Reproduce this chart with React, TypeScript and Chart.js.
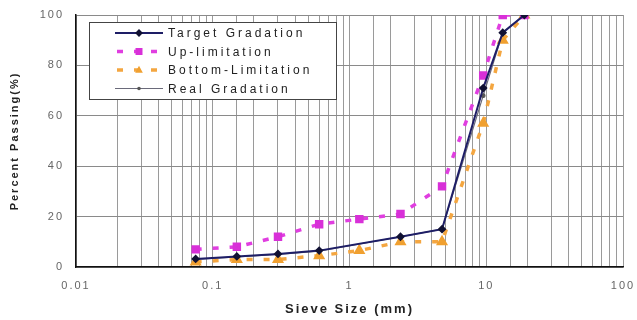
import React, { useEffect, useRef } from 'react';
import { Chart, registerables } from 'chart.js';

Chart.register(...registerables);

// ---- data ----
const seriesNames = ['Target Gradation', 'Up-limitation', 'Bottom-Limitation', 'Real Gradation'];

const targetSizes = [0.075, 0.15, 0.3, 0.6, 2.36, 4.75, 9.5, 13.2, 19];
const targetPassing = [3.2, 4.2, 5.2, 6.5, 12, 15, 71, 93, 100];

const upSizes = [0.075, 0.15, 0.3, 0.6, 1.18, 2.36, 4.75, 9.5, 13.2, 19];
const upPassing = [7, 8, 12, 17, 19, 21, 32, 76, 100, 100];

const bottomSizes = [0.075, 0.15, 0.3, 0.6, 1.18, 2.36, 4.75, 9.5, 13.2, 19];
const bottomPassing = [2, 3, 3, 4.5, 6.5, 10, 10, 57, 90, 100];

const realSizes = [0.075, 0.15, 0.3, 0.6, 2.36, 4.75, 9.5, 13.2, 19];
const realPassing = [3, 4, 5, 6.3, 12, 15, 68, 93, 100];

const xTickLabels = ['0.01', '0.1', '1', '10', '100'];
const yTickLabels = ['0', '20', '40', '60', '80', '100'];

const xTitle = 'Sieve Size (mm)';
const yTitle = 'Percent Passing(%)';

const toPoints = (xs: number[], ys: number[]) => xs.map((x, i) => ({ x, y: ys[i] }));

const FONT = "'Liberation Sans', Arial, sans-serif";

function drawMarker(ctx: CanvasRenderingContext2D, style: string, x: number, y: number, r: number, color: string) {
  ctx.save();
  ctx.fillStyle = color;
  ctx.strokeStyle = color;
  ctx.setLineDash([]);
  ctx.beginPath();
  if (style === 'rect') {
    ctx.rect(x - r, y - r, 2 * r, 2 * r);
    ctx.fill();
  } else if (style === 'rectRot') {
    ctx.moveTo(x, y - r * 1.3);
    ctx.lineTo(x + r * 1.3, y);
    ctx.lineTo(x, y + r * 1.3);
    ctx.lineTo(x - r * 1.3, y);
    ctx.closePath();
    ctx.fill();
  } else if (style === 'triangle') {
    ctx.moveTo(x, y - r * 1.2);
    ctx.lineTo(x + r * 1.1, y + r * 0.8);
    ctx.lineTo(x - r * 1.1, y + r * 0.8);
    ctx.closePath();
    ctx.fill();
  } else {
    ctx.arc(x, y, r, 0, Math.PI * 2);
    ctx.fill();
  }
  ctx.restore();
}

const spacingPlugin = {
  id: 'spacing',
  beforeUpdate(chart: any) {
    chart.ctx.letterSpacing = '2px';
  },
  beforeDraw(chart: any) {
    chart.ctx.letterSpacing = '2px';
  },
};

const legendPlugin = {
  id: 'boxLegend',
  afterDraw(chart: any) {
    const ctx: CanvasRenderingContext2D = chart.ctx;
    const area = chart.chartArea;
    const bx = area.left + 13;
    const by = area.top + 7;
    const bw = 247;
    const bh = 77;
    ctx.save();
    ctx.fillStyle = '#ffffff';
    ctx.fillRect(bx, by, bw, bh);
    ctx.strokeStyle = '#444';
    ctx.lineWidth = 1;
    ctx.strokeRect(bx + 0.5, by + 0.5, bw, bh);
    chart.data.datasets.forEach((ds: any, i: number) => {
      const y = by + 11 + i * 18.5;
      const x1 = bx + 26;
      const x2 = bx + 74;
      ctx.save();
      ctx.strokeStyle = ds.borderColor;
      ctx.lineWidth = ds.borderWidth;
      ctx.setLineDash(ds.borderDash || []);
      ctx.lineDashOffset = ds.borderDash ? -2 : 0;
      ctx.beginPath();
      ctx.moveTo(x1, y);
      ctx.lineTo(x2, y);
      ctx.stroke();
      ctx.restore();
      drawMarker(ctx, ds.pointStyle, (x1 + x2) / 2, y, ds.pointRadius, ds.pointBackgroundColor);
      ctx.fillStyle = '#222';
      ctx.font = `12px ${FONT}`;
      (ctx as any).letterSpacing = '3px';
      ctx.textBaseline = 'middle';
      ctx.textAlign = 'left';
      ctx.fillText(ds.label, x2 + 5, y + 1);
    });
    ctx.restore();
  },
};

const isPow10 = (v: number) => Math.abs(Math.log10(v) - Math.round(Math.log10(v))) < 1e-6;

export default function App() {
  const canvasRef = useRef<HTMLCanvasElement | null>(null);

  useEffect(() => {
    if (!canvasRef.current) return;
    const chart = new Chart(canvasRef.current, {
      type: 'line',
      data: {
        datasets: [
          {
            label: seriesNames[0],
            data: toPoints(targetSizes, targetPassing),
            borderColor: '#1e1e66',
            borderWidth: 2,
            pointStyle: 'rectRot',
            pointRadius: 3,
            pointBackgroundColor: '#111133',
            pointBorderColor: '#111133',
            tension: 0,
          },
          {
            label: seriesNames[1],
            data: toPoints(upSizes, upPassing),
            borderColor: '#e03ee0',
            borderWidth: 3.5,
            borderDash: [6, 11],
            pointStyle: 'rect',
            pointRadius: 3.5,
            pointBackgroundColor: '#d830d8',
            pointBorderColor: '#d830d8',
            tension: 0,
          },
          {
            label: seriesNames[2],
            data: toPoints(bottomSizes, bottomPassing),
            borderColor: '#f4a640',
            borderWidth: 3.5,
            borderDash: [6, 11],
            pointStyle: 'triangle',
            pointRadius: 3.5,
            pointBackgroundColor: '#f0a030',
            pointBorderColor: '#f0a030',
            tension: 0,
          },
          {
            label: seriesNames[3],
            data: toPoints(realSizes, realPassing),
            borderColor: '#6a6a7a',
            borderWidth: 1.2,
            pointStyle: 'circle',
            pointRadius: 1.8,
            pointBackgroundColor: '#555',
            pointBorderColor: '#555',
            tension: 0,
          },
        ] as any,
      },
      options: {
        responsive: false,
        animation: false,
        devicePixelRatio: 1,
        layout: { padding: { top: 15, right: 14, left: 0, bottom: 0 } },
        plugins: {
          legend: { display: false },
          tooltip: { enabled: false },
        },
        scales: {
          x: {
            type: 'logarithmic',
            min: 0.01,
            max: 100,
            afterFit: (s: any) => {
              s.height = 53;
              s.paddingLeft = 0;
              s.paddingRight = 0;
            },
            grid: { color: '#9a9a9a', lineWidth: 1, drawTicks: false },
            border: { color: '#111', width: 1.5 },
            ticks: {
              autoSkip: false,
              maxRotation: 0,
              padding: 12,
              color: '#666',
              font: { family: FONT, size: 11 },
              callback: (v: any) => {
                const n = Number(v);
                if (!isPow10(n)) return '';
                const k = Math.round(Math.log10(n)) + 2;
                return xTickLabels[k] ?? '';
              },
            },
            title: {
              display: true,
              text: xTitle,
              color: '#222',
              font: { family: FONT, size: 13, weight: 'bold' },
              padding: { top: 0, bottom: 3 },
            },
          },
          y: {
            min: 0,
            max: 100,
            afterFit: (s: any) => {
              s.width = 76;
              s.paddingTop = 0;
              s.paddingBottom = 0;
            },
            grid: { color: '#8a8a8a', lineWidth: 1, drawTicks: false },
            border: { color: '#111', width: 1.5 },
            ticks: {
              stepSize: 20,
              padding: 12,
              color: '#666',
              font: { family: FONT, size: 11 },
              callback: (v: any) => {
                const idx = Math.round(Number(v) / 20);
                return yTickLabels[idx] ?? '';
              },
            },
            title: {
              display: true,
              text: yTitle,
              color: '#222',
              font: { family: FONT, size: 11, weight: 'bold' },
              padding: { top: 8, bottom: 0 },
            },
          },
        },
      } as any,
      plugins: [spacingPlugin, legendPlugin],
    });
    return () => chart.destroy();
  }, []);

  return (
    <div style={{ position: 'absolute', left: 0, top: 0, width: 637, height: 320, background: '#fff' }}>
      <canvas ref={canvasRef} width={637} height={320} style={{ display: 'block' }} />
    </div>
  );
}
